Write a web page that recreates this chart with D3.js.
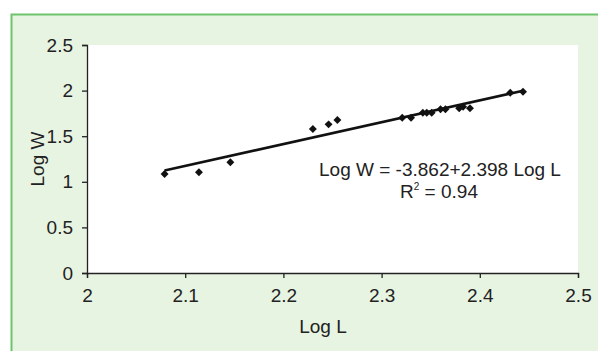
<!DOCTYPE html>
<html>
<head>
<meta charset="utf-8">
<script src="https://cdn.jsdelivr.net/npm/d3@7"></script>
<style>
  body { margin: 0; background: #fff; }
  svg text { font-family: "Liberation Sans", Arial, sans-serif; fill: #222; }
</style>
</head>
<body>
<svg id="chart"></svg>
<script>
const logL = [2.079, 2.114, 2.146, 2.230, 2.246, 2.255, 2.321, 2.330, 2.342, 2.346, 2.351, 2.360, 2.365, 2.379, 2.383, 2.390, 2.431, 2.444];
const logW = [1.086, 1.104, 1.214, 1.579, 1.630, 1.678, 1.703, 1.703, 1.758, 1.758, 1.758, 1.795, 1.795, 1.806, 1.823, 1.806, 1.977, 1.988];
const xTicks = [2, 2.1, 2.2, 2.3, 2.4, 2.5];
const yTicks = [0, 0.5, 1, 1.5, 2, 2.5];
const intercept = -3.862;
const slope = 2.398;
const r2 = "0.94";

const W = 598, H = 351;
const svg = d3.select("#chart").attr("width", W).attr("height", H);

// panel background with green top/left border
svg.append("rect").attr("x", 11).attr("y", 14).attr("width", W - 11).attr("height", H - 14).attr("fill", "#e8f4e2");
svg.append("path").attr("d", `M11.5,${H} V14.5 H${W}`).attr("fill", "none").attr("stroke", "#6cc46c").attr("stroke-width", 2);

const x = d3.scaleLinear().domain([2, 2.5]).range([87, 578]);
const y = d3.scaleLinear().domain([0, 2.5]).range([273, 45]);

svg.append("rect").attr("x", 87).attr("y", 45).attr("width", 491).attr("height", 228).attr("fill", "#fff");

const xAxis = d3.axisBottom(x).tickValues(xTicks).tickSize(5).tickFormat(d3.format("~g"));
const yAxis = d3.axisLeft(y).tickValues(yTicks).tickSize(5).tickFormat(d3.format("~g"));

const gx = svg.append("g").attr("transform", "translate(0,273)").call(xAxis);
const gy = svg.append("g").attr("transform", "translate(87,0)").call(yAxis);
[gx, gy].forEach(g => {
  g.select(".domain").attr("stroke", "#222").attr("stroke-width", 1.3);
  g.selectAll(".tick line").attr("stroke", "#222").attr("stroke-width", 1.3);
  g.selectAll(".tick text").attr("font-size", 19).attr("fill", "#222")
    .style("font-family", '"Liberation Sans", Arial, sans-serif');
});
gx.selectAll(".tick text").attr("y", 16);
gy.selectAll(".tick text").attr("x", -14);

svg.append("text").attr("x", 323).attr("y", 333).attr("text-anchor", "middle").attr("font-size", 19).text("Log L");
svg.append("text").attr("transform", "translate(44,159) rotate(-90)").attr("text-anchor", "middle").attr("font-size", 19).text("Log W");

// trend line
const x0 = d3.min(logL), x1 = d3.max(logL);
svg.append("line")
  .attr("x1", x(x0)).attr("y1", y(intercept + slope * x0))
  .attr("x2", x(x1)).attr("y2", y(intercept + slope * x1))
  .attr("stroke", "#111").attr("stroke-width", 2.6);

// points
const diamond = d3.symbol().type(d3.symbolDiamond2).size(40);
svg.append("g").selectAll("path").data(logL).join("path")
  .attr("d", diamond)
  .attr("transform", (d, i) => `translate(${x(d)},${y(logW[i])})`)
  .attr("fill", "#111");

const eq = svg.append("text").attr("text-anchor", "middle").attr("font-size", 19);
eq.append("tspan").attr("x", 440).attr("y", 176).text(`Log W = ${intercept}+${slope} Log L`);
const r = svg.append("text").attr("x", 439).attr("y", 198).attr("text-anchor", "middle").attr("font-size", 19);
r.append("tspan").text("R");
r.append("tspan").attr("font-size", 10).attr("dy", -8).text("2");
r.append("tspan").attr("dy", 8).text(` = ${r2}`);
</script>
</body>
</html>
